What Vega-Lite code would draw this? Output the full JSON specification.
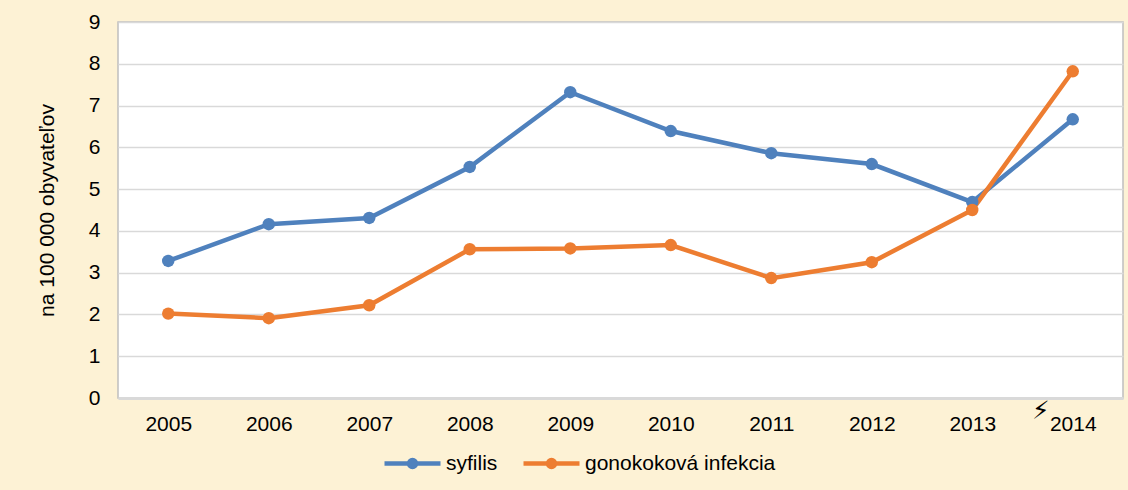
{
  "$schema": "https://vega.github.io/schema/vega-lite/v6.json",
  "width": 1005,
  "height": 376,
  "autosize": {"type": "none"},
  "padding": {"left": 118, "top": 22, "right": 5, "bottom": 92},
  "background": "#FDF2D5",
  "config": {
    "view": {"fill": "white", "stroke": "#BFBFBF", "strokeWidth": 1.5},
    "font": "Liberation Sans"
  },
  "data": {
    "values": [
      {"year": "2005", "series": "syfilis", "value": 3.28},
      {"year": "2006", "series": "syfilis", "value": 4.16},
      {"year": "2007", "series": "syfilis", "value": 4.31},
      {"year": "2008", "series": "syfilis", "value": 5.53},
      {"year": "2009", "series": "syfilis", "value": 7.32},
      {"year": "2010", "series": "syfilis", "value": 6.39},
      {"year": "2011", "series": "syfilis", "value": 5.86},
      {"year": "2012", "series": "syfilis", "value": 5.6},
      {"year": "2013", "series": "syfilis", "value": 4.69},
      {"year": "2014", "series": "syfilis", "value": 6.67},
      {"year": "2005", "series": "gonokoková infekcia", "value": 2.02},
      {"year": "2006", "series": "gonokoková infekcia", "value": 1.91},
      {"year": "2007", "series": "gonokoková infekcia", "value": 2.22},
      {"year": "2008", "series": "gonokoková infekcia", "value": 3.56},
      {"year": "2009", "series": "gonokoková infekcia", "value": 3.58},
      {"year": "2010", "series": "gonokoková infekcia", "value": 3.66},
      {"year": "2011", "series": "gonokoková infekcia", "value": 2.87},
      {"year": "2012", "series": "gonokoková infekcia", "value": 3.25},
      {"year": "2013", "series": "gonokoková infekcia", "value": 4.5},
      {"year": "2014", "series": "gonokoková infekcia", "value": 7.82}
    ]
  },
  "encoding": {
    "x": {
      "field": "year",
      "type": "ordinal",
      "scale": {"padding": 0.5},
      "axis": {
        "title": null,
        "labelAngle": 0,
        "labelFontSize": 21,
        "labelColor": "#000000",
        "labelPadding": 15,
        "ticks": false,
        "grid": false,
        "domainColor": "#D9D9D9",
        "domainWidth": 3
      }
    }
  },
  "resolve": {"axis": {"y": "independent"}},
  "layer": [
    {
      "mark": {
        "type": "line",
        "strokeWidth": 4.5,
        "point": {"size": 155, "filled": true, "opacity": 1}
      },
      "encoding": {
        "y": {
          "field": "value",
          "type": "quantitative",
          "scale": {"domain": [0, 9], "nice": false},
          "axis": {
            "values": [0, 1, 2, 3, 4, 5, 6, 7, 8, 9],
            "title": "na 100 000 obyvateľov",
            "titleFontSize": 21,
            "titleFontWeight": "normal",
            "titleColor": "#000000",
            "titlePadding": 31,
            "labelFontSize": 21,
            "labelColor": "#000000",
            "labelPadding": 18,
            "ticks": false,
            "domain": false,
            "gridColor": "#D9D9D9",
            "gridWidth": 1.5
          }
        },
        "color": {
          "field": "series",
          "type": "nominal",
          "sort": ["syfilis", "gonokoková infekcia"],
          "scale": {"domain": ["syfilis", "gonokoková infekcia"], "range": ["#4F81BD", "#ED7D31"]},
          "legend": {
            "title": null,
            "orient": "none",
            "direction": "horizontal",
            "legendX": 264,
            "legendY": 411,
            "padding": 0,
            "symbolType": "M-1,0H1M-0.125,0A0.125,0.125 0 1,1 0.125,0A0.125,0.125 0 1,1 -0.125,0Z",
            "symbolSize": 3136,
            "symbolStrokeWidth": 4.5,
            "labelFontSize": 21,
            "labelLimit": 400,
            "labelColor": "#000000",
            "labelOffset": 3,
            "columnPadding": 16,
            "encode": {
              "symbols": {
                "update": {
                  "fill": {"scale": "color", "field": "value"},
                  "stroke": {"scale": "color", "field": "value"},
                  "opacity": {"value": 1}
                }
              }
            }
          }
        }
      }
    },
    {
      "data": {"values": [{"year": "2014", "pos": -0.3, "sign": "⚡"}]},
      "mark": {"type": "text", "dx": -32, "fontSize": 25, "font": "DejaVu Sans", "color": "#000000"},
      "encoding": {
        "y": {"field": "pos", "type": "quantitative", "axis": null},
        "text": {"field": "sign"}
      }
    }
  ]
}
